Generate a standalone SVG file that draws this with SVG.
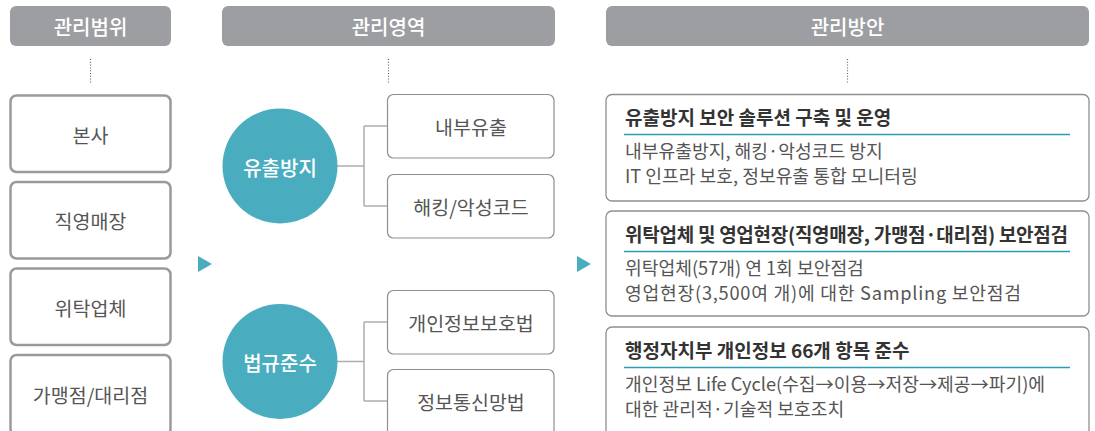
<svg xmlns="http://www.w3.org/2000/svg" width="1095" height="431" viewBox="0 0 1095 431">
<style>
text{font-family:"Noto Sans CJK KR","Noto Sans",sans-serif;}
.hdr{fill:#9d9ea2;}
.hdrt{fill:#ffffff;font-size:20px;font-weight:500;text-anchor:middle;dominant-baseline:central;}
.dot{stroke:#666;stroke-width:1.2;stroke-dasharray:1 1.8;fill:none;}
.lbox{fill:#fff;stroke:#9a9a9a;stroke-width:2.5;}
.mbox{fill:#fff;stroke:#8f8f8f;stroke-width:1.2;}
.rbox{fill:#fff;stroke:#8f8f8f;stroke-width:1.3;}
.bt{fill:#555;font-size:19.5px;text-anchor:middle;dominant-baseline:central;}
.circ{fill:#49adbf;}
.ct{fill:#fff;font-size:20px;font-weight:500;text-anchor:middle;dominant-baseline:central;}
.conn{stroke:#adadad;stroke-width:1.5;fill:none;}
.tri{fill:#49adbf;}
.tt{fill:#333;font-size:19px;font-weight:bold;}
.ul{stroke:#2a9cb6;stroke-width:1.5;}
.body{fill:#555;font-size:18.2px;}
</style>

<g id="header-scope"><rect class="hdr" x="10" y="6" width="161" height="40" rx="6"/><text class="hdrt" x="90.5" y="26">관리범위</text></g>
<g id="header-area"><rect class="hdr" x="222" y="6" width="333" height="40" rx="6"/><text class="hdrt" x="388.5" y="26">관리영역</text></g>
<g id="header-plan"><rect class="hdr" x="606" y="6" width="483" height="40" rx="6"/><text class="hdrt" x="847.5" y="26">관리방안</text></g>

<g id="dots">
<line class="dot" x1="90.5" y1="59" x2="90.5" y2="84"/>
<line class="dot" x1="388.5" y1="59" x2="388.5" y2="84"/>
<line class="dot" x1="847.5" y1="59" x2="847.5" y2="84"/>
</g>

<g id="scope-hq"><rect class="lbox" x="10.5" y="95.5" width="160" height="76.5" rx="6"/><text class="bt" x="90.5" y="134">본사</text></g>
<g id="scope-store"><rect class="lbox" x="10.5" y="182" width="160" height="76.5" rx="6"/><text class="bt" x="90.5" y="220">직영매장</text></g>
<g id="scope-vendor"><rect class="lbox" x="10.5" y="268.5" width="160" height="76.5" rx="6"/><text class="bt" x="90.5" y="307">위탁업체</text></g>
<g id="scope-franchise"><rect class="lbox" x="10.5" y="355" width="160" height="80" rx="6"/><text class="bt" x="90.5" y="394">가맹점/대리점</text></g>

<g id="arrow1"><polygon class="tri" points="198,256 198,272 212,264"/></g>
<g id="arrow2"><polygon class="tri" points="577,256 577,272 591,264"/></g>

<g id="connectors">
<path class="conn" d="M337,166 H364 M364,126 V206 M364,126 H387 M364,206 H387"/>
<path class="conn" d="M337,361.5 H364 M364,322 V401 M364,322 H387 M364,401 H387"/>
</g>

<g id="area-leak"><circle class="circ" cx="280" cy="166" r="57.5"/><text class="ct" x="280" y="167">유출방지</text></g>
<g id="area-law"><circle class="circ" cx="280" cy="361.5" r="57.5"/><text class="ct" x="280" y="362">법규준수</text></g>

<g id="area-internal"><rect class="mbox" x="387.5" y="94.5" width="166.5" height="63.5" rx="6"/><text class="bt" x="471" y="126">내부유출</text></g>
<g id="area-hacking"><rect class="mbox" x="387.5" y="174.5" width="166.5" height="63.5" rx="6"/><text class="bt" x="471" y="206">해킹/악성코드</text></g>
<g id="area-privacy"><rect class="mbox" x="387.5" y="290.5" width="166.5" height="63.5" rx="6"/><text class="bt" x="471" y="322">개인정보보호법</text></g>
<g id="area-network"><rect class="mbox" x="387.5" y="369.5" width="166.5" height="70" rx="6"/><text class="bt" x="471" y="401">정보통신망법</text></g>

<g id="plan-1">
<rect class="rbox" x="606" y="94.5" width="483" height="106.5" rx="6"/>
<text class="tt" x="625" y="125">유출방지 보안 솔루션 구축 및 운영</text>
<line class="ul" x1="624" y1="134.5" x2="1070" y2="134.5"/>
<text class="body" x="625" y="158">내부유출방지, 해킹·악성코드 방지</text>
<text class="body" x="625" y="183">IT 인프라 보호, 정보유출 통합 모니터링</text>
</g>
<g id="plan-2">
<rect class="rbox" x="606" y="211" width="483" height="105" rx="6"/>
<text class="tt" x="625" y="242" textLength="443" lengthAdjust="spacing">위탁업체 및 영업현장(직영매장, 가맹점·대리점) 보안점검</text>
<line class="ul" x1="624" y1="251.5" x2="1070" y2="251.5"/>
<text class="body" x="625" y="275">위탁업체(57개) 연 1회 보안점검</text>
<text class="body" x="625" y="300" textLength="396" lengthAdjust="spacing">영업현장(3,500여 개)에 대한 Sampling 보안점검</text>
</g>
<g id="plan-3">
<rect class="rbox" x="606" y="327" width="483" height="115" rx="6"/>
<text class="tt" x="625" y="358">행정자치부 개인정보 66개 항목 준수</text>
<line class="ul" x1="624" y1="367.5" x2="1070" y2="367.5"/>
<text class="body" x="625" y="391">개인정보 Life Cycle(수집→이용→저장→제공→파기)에</text>
<text class="body" x="625" y="416">대한 관리적·기술적 보호조치</text>
</g>
</svg>
